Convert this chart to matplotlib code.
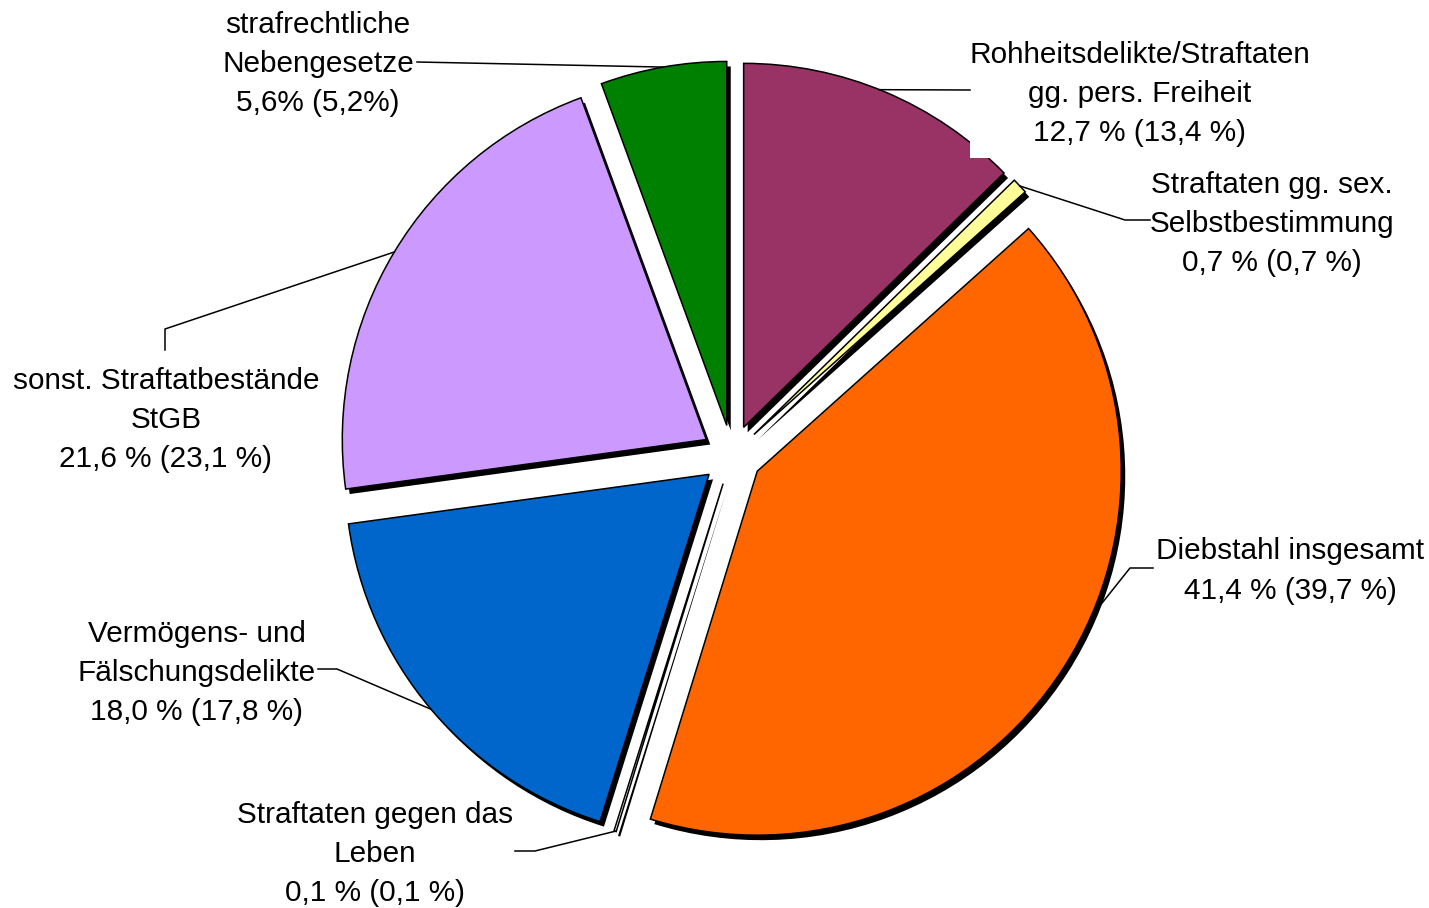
import numpy as np
import matplotlib
matplotlib.use("Agg")
import matplotlib.pyplot as plt
from matplotlib.patches import Rectangle

plt.rcParams["font.family"] = ["Liberation Sans", "DejaVu Sans"]

# Anteile (in Klammern: Vorjahr)
categories = ["Rohheitsdelikte/Straftaten\ngg. pers. Freiheit",
              "Straftaten gg. sex.\nSelbstbestimmung",
              "Diebstahl insgesamt",
              "Straftaten gegen das\nLeben",
              "Vermögens- und\nFälschungsdelikte",
              "sonst. Straftatbestände\nStGB",
              "strafrechtliche\nNebengesetze"]
values = [12.7, 0.7, 41.4, 0.1, 18.0, 21.6, 5.6]
value_labels = ["12,7 % (13,4 %)", "0,7 % (0,7 %)", "41,4 % (39,7 %)", "0,1 % (0,1 %)",
                "18,0 % (17,8 %)", "21,6 % (23,1 %)", "5,6% (5,2%)"]
colors = ["#993366", "#FFFF99", "#FF6600", "#FFFFFF", "#0066CC", "#CC99FF", "#008000"]

W, H = 1429, 908
fig = plt.figure(figsize=(W / 100, H / 100), dpi=100)
ax = fig.add_axes([0, 0, 1, 1])

cx, cy, r = 732, H - 455, 364
explode = [30] * len(values)   # pie nimmt explode in daten-einheiten

# schatten
ax.pie(values, radius=r, center=(cx + 4, cy - 5), startangle=90, counterclock=False,
       explode=explode, colors=["black"] * len(values), normalize=True,
       wedgeprops=dict(linewidth=0), frame=True)
wedges, _ = ax.pie(values, radius=r, center=(cx, cy), startangle=90, counterclock=False,
                   explode=explode, colors=colors, normalize=True,
                   wedgeprops=dict(edgecolor="black", linewidth=1.1), frame=True)
ax.set_xlim(0, W)
ax.set_ylim(0, H)
ax.set_aspect("equal")
ax.axis("off")

# weisses kaestchen vom label ueber dem lila stueck
ax.add_patch(Rectangle((970, H - 158), 60, 100, facecolor="white", edgecolor="none", zorder=3))

# label: (x, y) mittelpunkt, anker-anteil im winkel, knickpunkte in pixeln (y von oben)
label_pos = [(1140, 94), (1272, 224), (1290, 571), (375, 854), (197, 673), (166, 420), (318, 64)]
anchor_frac = [0.48, 0.5, 0.44, 0.5, 0.5, 0.5, 0.5]
leader_pts = [[(970, 90)],
              [(1125, 220), (1150, 220)],
              [(1130, 568), (1153, 568)],
              [(535, 851), (515, 851)],
              [(337, 669), (318, 669)],
              [(165, 329), (165, 350)],
              [(417, 62)]]

for w, cat, vl, (lx, ly), fr, pts in zip(wedges, categories, value_labels, label_pos,
                                         anchor_frac, leader_pts):
    t1, t2 = min(w.theta1, w.theta2), max(w.theta1, w.theta2)
    ang = np.deg2rad(t2 - (t2 - t1) * fr)
    ax0 = w.center[0] + w.r * np.cos(ang)
    ay0 = w.center[1] + w.r * np.sin(ang)
    xs = [ax0] + [p[0] for p in pts]
    ys = [ay0] + [H - p[1] for p in pts]
    ax.plot(xs, ys, color="black", linewidth=1.1, zorder=4)
    ax.text(lx, H - ly, cat + "\n" + vl, ha="center", va="center", fontsize=21.4,
            linespacing=1.52, zorder=5)

fig.savefig("out.png", dpi=100)
